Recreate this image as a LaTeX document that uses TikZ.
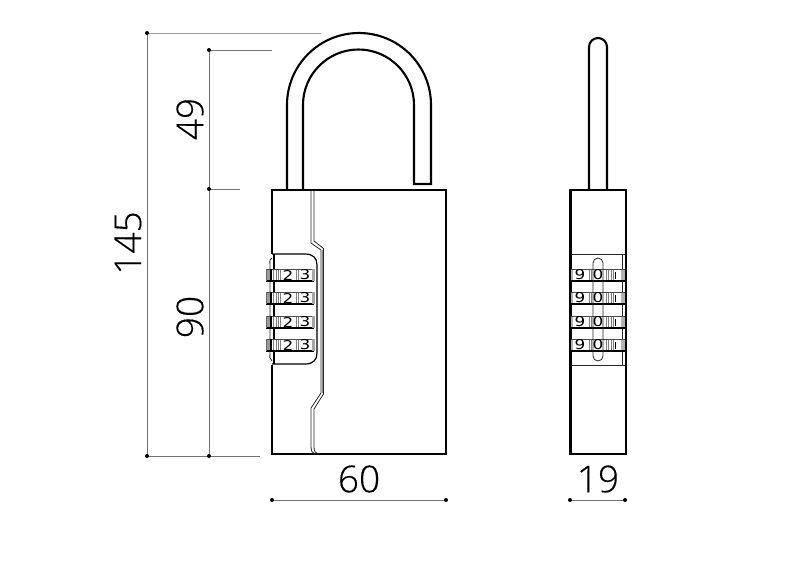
\documentclass[tikz,border=0pt]{standalone}
\usepackage{fontspec}
\setmainfont{Open Sans}[UprightFont=* Light,UprightFeatures={FakeBold=0.3}]
\newfontfamily\digitfont{DejaVu Sans}
\definecolor{dimgray}{gray}{0.45}
\tikzset{
  x=1pt,y=-1pt,
  outline/.style={draw=black,line width=2.1pt,line join=miter},
  thin part/.style={draw=black!85,line width=0.8pt},
  dimline/.style={draw=dimgray,line width=0.8pt},
  dimdot/.style={circle,fill=black,inner sep=0pt,minimum size=4pt},
  dimtext/.style={font=\fontsize{37}{37}\selectfont,inner sep=0pt,text=black},
  rib/.style={draw=black!50,line width=0.8pt},
  digit/.style={font=\digitfont\fontsize{13.5}{13.5}\selectfont,inner sep=0pt,xscale=1.25,transform shape},
}
\newcommand{\frontwheel}[1]{%
  \fill[white] (266,#1) rectangle (314,#1+12);
  \fill[black!40] (266,#1) rectangle (270,#1+12);
  \foreach \xx in {273,276,278,280,296,298}{\draw[rib] (\xx,#1) -- (\xx,#1+12);}
  \draw[black!70,line width=.8pt] (266,#1) -- (314,#1);
  \draw[black,line width=1.4pt] (266,#1+12) -- (314,#1+12);
  \draw[black!60,line width=.8pt] (266,#1) -- (266,#1+12);
  \draw[black,line width=1.3pt] (271,#1) -- (271,#1+12);
  \fill[black!35] (312,#1) rectangle (315,#1+12);
  \node[digit] at (288,#1+6) {2};
  \node[digit] at (305,#1+6) {3};
}
\newcommand{\sidewheel}[1]{%
  \fill[white] (571,#1) rectangle (625,#1+12);
  \foreach \xx in {589,591,606,608,611,613}{\draw[rib] (\xx,#1) -- (\xx,#1+12);}
  \fill[black!30] (571,#1) rectangle (573,#1+12);
  \fill[black!30] (621,#1) rectangle (625,#1+12);
  \draw[black!70,line width=.8pt] (571,#1) -- (625,#1);
  \draw[black,line width=1.4pt] (571,#1+12) -- (625,#1+12);
  \node[digit] at (580,#1+6) {9};
  \node[digit] at (598,#1+6) {0};
  \draw[black,line width=1.5pt] (615.5,#1+2.5) -- (615.5,#1+10);
}
\begin{document}
\begin{tikzpicture}
\useasboundingbox (0,0) rectangle (792,560);
\fill[white] (0,0) rectangle (792,560);

% --- dimensions ---
\coordinate (a1) at (147,33);
\coordinate (a2) at (321,33);
\coordinate (a3) at (147,456);
\coordinate (a4) at (260,456);
\coordinate (b1) at (209,50);
\coordinate (b2) at (272,50);
\coordinate (b3) at (209,189);
\coordinate (b4) at (240,189);
\coordinate (b5) at (209,456);
\coordinate (c1) at (272,500);
\coordinate (c2) at (446,500);
\coordinate (d1) at (570,500);
\coordinate (d2) at (625,500);
\draw[dimline,draw=black!40] (a1) -- (a2);
\draw[dimline] (a1) -- (a3);
\draw[dimline] (a3) -- (a4);
\draw[dimline] (b1) -- (b2);
\draw[dimline] (b1) -- (b5);
\draw[dimline] (b3) -- (b4);
\draw[dimline] (c1) -- (c2);
\draw[dimline] (d1) -- (d2);
\foreach \p in {a1,a3,b1,b3,b5,c1,c2,d1,d2}{\node[dimdot] at (\p) {};}
\node[dimtext,rotate=90] (t145) at (128,243) {145};
\node[dimtext,rotate=90] (t49) at (190,119) {49};
\node[dimtext,rotate=90] (t90) at (190,317) {90};
\node[dimtext] (t60) at (359,479) {60};
\node[dimtext] (t19) at (598,479) {19};

% --- front: shackle ---
\draw[outline] (287,189) -- (287,105) arc[start angle=180,end angle=360,radius=72] -- (431,184) -- (414,184) -- (414,105) arc[start angle=360,end angle=180,radius=55.5] -- (303,189);

% --- front: body ---
\draw[outline] (272,254) -- (272,190) -- (446,190) -- (446,454) -- (272,454) -- (272,365);
\draw[thin part] (311,190) -- (311,243) -- (321,250) -- (321,393) -- (311,408) -- (311,446) .. controls (311,451) and (312,453) .. (315,454);
\draw[thin part] (314,190) -- (314,241) -- (323.5,248.5) -- (323.5,394) -- (314,409) -- (314,447) .. controls (314,451) and (315,453) .. (319,454);
\draw[draw=black!45,line width=1.2pt] (322.3,250) -- (322.3,393);
% cut-out
\draw[draw=black,line width=1.2pt] (272,254) -- (305,254) .. controls (313,254) and (317,258) .. (317,265) -- (317,353) .. controls (317,360) and (313,364) .. (305,364) -- (272,364);
\draw[outline,line width=1.6pt] (274,254) -- (274,364);
\draw[thin part] (272,258) .. controls (269,260) and (270,262) .. (270,266) -- (270,352) .. controls (270,357) and (269,359) .. (272,361);
\foreach \yy in {269,292,316,339}{\frontwheel{\yy}}

% --- side: shackle ---
\draw[outline] (589,189) -- (589,47) arc[start angle=180,end angle=360,radius=9] -- (607,189);

% --- side: body ---
\draw[outline] (570.5,190) rectangle (626,454);
\draw[thin part] (571,254) -- (625,254);
\draw[thin part] (571,365) -- (625,365);
\draw[thin part] (622,254) -- (622,365);
\foreach \yy in {269,292,316,339}{\sidewheel{\yy}}
\draw[thin part] (593,263) arc[start angle=180,end angle=360,radius=5] -- (603,356) arc[start angle=0,end angle=180,radius=5] -- cycle;
\end{tikzpicture}
\end{document}
